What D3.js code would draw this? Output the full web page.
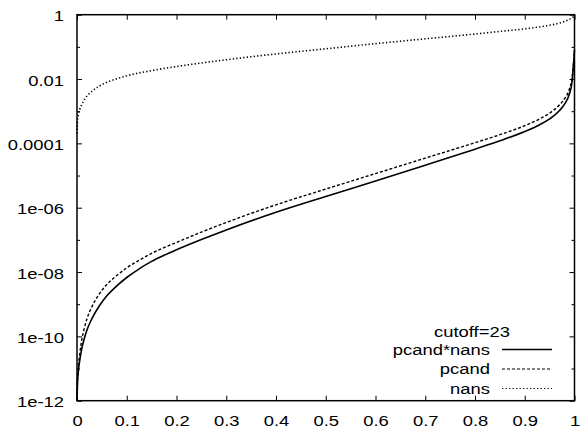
<!DOCTYPE html>
<html>
<head>
<meta charset="utf-8">
<script src="https://cdn.jsdelivr.net/npm/d3@7"></script>
<style>
  html, body { margin: 0; padding: 0; background: #fff; }
  text { font-family: "Liberation Sans", Helvetica, Arial, sans-serif; fill: #000; }
</style>
</head>
<body>
<svg id="chart" width="580" height="434"></svg>
<script>
// x positions shared by the three curves
const xs = [0, 0.001, 0.003, 0.006, 0.01, 0.015, 0.02, 0.03, 0.045, 0.06, 0.08, 0.1,
            0.125, 0.15, 0.175, 0.2, 0.25, 0.3, 0.4, 0.5, 0.6, 0.7, 0.8, 0.85, 0.9,
            0.93, 0.95, 0.97, 0.98, 0.99, 0.995, 1];

const pcandNans = [1e-12, 3.55e-12, 8.91e-12, 2.00e-11, 4.47e-11, 8.91e-11, 1.58e-10, 3.55e-10,
                   8.91e-10, 1.82e-9, 3.72e-9, 6.76e-9, 1.26e-8, 2.14e-8, 3.31e-8, 4.90e-8,
                   1.02e-7, 2.04e-7, 7.24e-7, 2.24e-6, 6.76e-6, 2.09e-5, 6.61e-5, 1.20e-4,
                   2.34e-4, 3.80e-4, 5.75e-4, 1.05e-3, 1.66e-3, 3.55e-3, 7.94e-3, 7.94e-2];

const pcand = [1e-12, 4.27e-12, 1.26e-11, 3.31e-11, 8.51e-11, 1.86e-10, 3.55e-10, 8.32e-10,
               2.09e-9, 4.07e-9, 7.76e-9, 1.35e-8, 2.34e-8, 3.80e-8, 5.75e-8, 8.32e-8,
               1.74e-7, 3.47e-7, 1.23e-6, 3.80e-6, 1.15e-5, 3.47e-5, 1.05e-4, 1.86e-4,
               3.55e-4, 5.75e-4, 8.71e-4, 1.58e-3, 2.45e-3, 5.01e-3, 1.05e-2, 7.94e-2];

const nans = [2.0e-4, 5.01e-4, 7.94e-4, 1.20e-3, 1.66e-3, 2.29e-3, 2.95e-3, 4.17e-3,
              6.03e-3, 7.94e-3, 1.02e-2, 1.26e-2, 1.55e-2, 1.82e-2, 2.14e-2, 2.45e-2,
              3.16e-2, 3.98e-2, 6.03e-2, 8.71e-2, 0.126, 0.178, 0.251, 0.302,
              0.363, 0.417, 0.468, 0.550, 0.617, 0.724, 0.794, 0.933];

const xTicks = [0, 0.1, 0.2, 0.3, 0.4, 0.5, 0.6, 0.7, 0.8, 0.9, 1];
const xTickLabels = ["0", "0.1", "0.2", "0.3", "0.4", "0.5", "0.6", "0.7", "0.8", "0.9", "1"];
const yTicks = [1, 1e-2, 1e-4, 1e-6, 1e-8, 1e-10, 1e-12];
const yTickLabels = ["1", "0.01", "0.0001", "1e-06", "1e-08", "1e-10", "1e-12"];
const yMinor = [1e-1, 1e-3, 1e-5, 1e-7, 1e-9, 1e-11];

const keyTitle = "cutoff=23";
const seriesNames = ["pcand*nans", "pcand", "nans"];

const svg = d3.select("#chart");
const plotL = 77, plotR = 574.5, plotT = 14.7, plotB = 400.7;
const stretch = 1.27;   // gnuplot font is wider than Liberation Sans

const x = d3.scaleLinear().domain([0, 1]).range([plotL, plotR]);
const y = d3.scaleLog().domain([1e-12, 1]).range([plotB, plotT]);

function styleAxis(g) {
  g.select(".domain").remove();
  g.selectAll("line").attr("stroke", "#000").attr("stroke-width", 1);
}

// major + minor ticks, all pointing inward
svg.append("g").attr("transform", `translate(${plotL},0)`)
  .call(d3.axisLeft(y).tickValues(yTicks).tickSizeInner(-5).tickSizeOuter(0)
        .tickFormat((d, i) => yTickLabels[i]))
  .call(styleAxis)
  .call(g => g.selectAll("text")
    .attr("x", 0).attr("dy", "0.35em")
    .attr("text-anchor", "end")
    .attr("font-size", "14.5px")
    .attr("transform", `translate(-13,1) scale(${stretch},1)`));

svg.append("g").attr("transform", `translate(${plotL},0)`)
  .call(d3.axisLeft(y).tickValues(yMinor).tickSizeInner(-3).tickSizeOuter(0).tickFormat(""))
  .call(styleAxis);

svg.append("g").attr("transform", `translate(${plotR},0)`)
  .call(d3.axisRight(y).tickValues(yTicks).tickSizeInner(-5).tickSizeOuter(0).tickFormat(""))
  .call(styleAxis);

svg.append("g").attr("transform", `translate(${plotR},0)`)
  .call(d3.axisRight(y).tickValues(yMinor).tickSizeInner(-3).tickSizeOuter(0).tickFormat(""))
  .call(styleAxis);

svg.append("g").attr("transform", `translate(0,${plotB})`)
  .call(d3.axisBottom(x).tickValues(xTicks).tickSizeInner(-5).tickSizeOuter(0)
        .tickFormat((d, i) => xTickLabels[i]))
  .call(styleAxis)
  .call(g => g.selectAll("text")
    .attr("y", 0).attr("dy", 0)
    .attr("font-size", "14.5px")
    .attr("transform", `translate(0,25.5) scale(${stretch},1)`));

svg.append("g").attr("transform", `translate(0,${plotT})`)
  .call(d3.axisTop(x).tickValues(xTicks).tickSizeInner(-5).tickSizeOuter(0).tickFormat(""))
  .call(styleAxis);

// border
svg.append("rect")
  .attr("x", plotL).attr("y", plotT)
  .attr("width", plotR - plotL).attr("height", plotB - plotT)
  .attr("fill", "none").attr("stroke", "#000").attr("stroke-width", 1.5);

const styles = [
  { dash: null, width: 1.6 },
  { dash: "3,2", width: 1.4 },
  { dash: "1.3,2.2", width: 1.6 }
];
const seriesData = [pcandNans, pcand, nans];

const line = d3.line()
  .x(d => x(d[0]))
  .y(d => y(d[1]))
  .curve(d3.curveMonotoneX);

const plot = svg.append("g");
seriesData.forEach((vals, k) => {
  plot.append("path")
    .datum(xs.map((v, i) => [v, vals[i]]))
    .attr("d", line)
    .attr("fill", "none")
    .attr("stroke", "#000")
    .attr("stroke-width", styles[k].width)
    .attr("stroke-dasharray", styles[k].dash);
});

// key
const key = svg.append("g");
key.append("text")
  .attr("text-anchor", "middle")
  .attr("font-size", "14.5px")
  .attr("transform", `translate(472,336.5) scale(${stretch},1)`)
  .text(keyTitle);

seriesNames.forEach((name, k) => {
  const ly = 349.5 + k * 19.5;
  key.append("text")
    .attr("text-anchor", "end")
    .attr("font-size", "14.5px")
    .attr("transform", `translate(490,${ly + 5}) scale(${stretch},1)`)
    .text(name);
  key.append("line")
    .attr("x1", 502).attr("x2", 552)
    .attr("y1", ly).attr("y2", ly)
    .attr("stroke", "#000")
    .attr("stroke-width", k === 0 ? 1.4 : 1)
    .attr("stroke-dasharray", styles[k].dash);
});
</script>
</body>
</html>
